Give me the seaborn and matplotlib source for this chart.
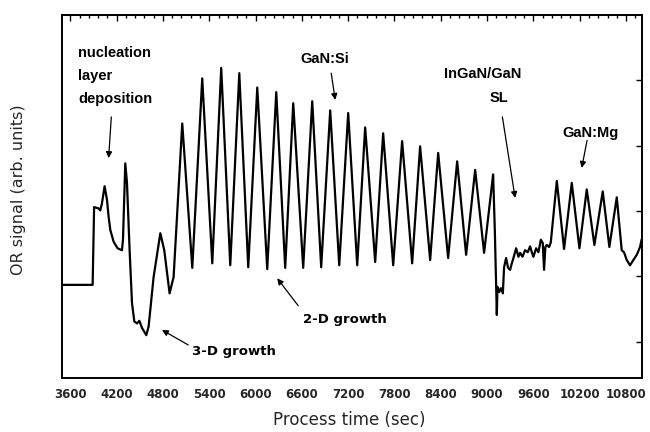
import matplotlib
matplotlib.use("Agg")
import numpy as np
import pandas as pd
import seaborn as sns
import matplotlib.pyplot as plt
from matplotlib.ticker import MultipleLocator, FixedLocator

# ---------------- data ----------------
# nucleation layer / 3-D growth phase
t_nucl = [3496, 3889, 3908, 3966, 3988, 4010, 4044, 4075, 4096, 4118, 4161,
          4212, 4269, 4282, 4312, 4334, 4368, 4399, 4429, 4464, 4494, 4529,
          4584, 4614, 4679, 4766, 4817, 4886, 4938]
s_nucl = [1.87, 1.87, 3.06, 3.04, 3.01, 3.12, 3.38, 3.17, 2.91, 2.71, 2.53,
          2.43, 2.40, 2.56, 3.73, 3.43, 2.40, 1.59, 1.31, 1.28, 1.32, 1.21,
          1.10, 1.23, 1.99, 2.66, 2.40, 1.74, 1.99]

# GaN:Si oscillations (peaks and troughs)
t_si_peak = [5050, 5309, 5555, 5789, 6022, 6268, 6488, 6734, 6967, 7200,
             7420, 7653, 7899, 8132, 8366, 8612, 8845, 9078]
s_si_peak = [4.34, 5.03, 5.19, 5.11, 4.89, 4.82, 4.65, 4.68, 4.54, 4.50,
             4.28, 4.19, 4.07, 3.99, 3.89, 3.76, 3.63, 3.56]
t_si_trough = [5180, 5439, 5672, 5905, 6151, 6384, 6617, 6850, 7084, 7317,
               7550, 7783, 8029, 8262, 8495, 8728, 8961]
s_si_trough = [2.13, 2.20, 2.17, 2.14, 2.11, 2.13, 2.13, 2.14, 2.17, 2.17,
               2.22, 2.17, 2.20, 2.25, 2.28, 2.33, 2.36]

# InGaN/GaN superlattice
t_sl = [9100, 9126, 9134, 9156, 9178, 9204, 9220, 9246, 9272, 9298, 9320,
        9341, 9376, 9406, 9428, 9458, 9492, 9527, 9557, 9579, 9600, 9635,
        9665, 9696, 9721, 9738, 9755, 9773, 9803, 9825]
s_sl = [2.70, 1.41, 1.84, 1.76, 1.82, 1.74, 2.14, 2.28, 2.13, 2.10, 2.20,
        2.28, 2.43, 2.30, 2.36, 2.30, 2.40, 2.37, 2.46, 2.37, 2.30, 2.43,
        2.37, 2.56, 2.51, 2.10, 2.45, 2.48, 2.45, 2.52]

# GaN:Mg
t_mg = [9903, 9997, 10097, 10196, 10291, 10390, 10498, 10584, 10680, 10744,
        10774, 10809, 10852, 10895, 10939, 10982, 11003]
s_mg = [3.46, 2.42, 3.43, 2.43, 3.33, 2.48, 3.30, 2.45, 3.21, 2.40,
        2.37, 2.25, 2.17, 2.25, 2.33, 2.45, 2.57]

x_ticks = [3600, 4200, 4800, 5400, 6000, 6600, 7200, 7800, 8400, 9000,
           9600, 10200, 10800]
x_tick_labels = [str(v) for v in x_ticks]

# ---------------- build table ----------------
si = pd.DataFrame({"t": t_si_peak + t_si_trough, "s": s_si_peak + s_si_trough})
df = pd.concat([pd.DataFrame({"t": t_nucl, "s": s_nucl}), si,
                pd.DataFrame({"t": t_sl, "s": s_sl}),
                pd.DataFrame({"t": t_mg, "s": s_mg})], ignore_index=True)
df = df.sort_values("t").reset_index(drop=True)

# ---------------- plot ----------------
sns.set_style("white")
plt.rcParams["font.family"] = ["DejaVu Sans"]

fig = plt.figure(figsize=(6.5, 4.32), dpi=100)
W, H = 650, 432
L, R, T, B = 62, 641.7, 15, 378.3
ax = fig.add_axes([L / W, 1 - B / H, (R - L) / W, (B - T) / H])

sns.lineplot(data=df, x="t", y="s", ax=ax, color="black", lw=1.6,
             sort=False, estimator=None)

ax.set_xlim(3492, 11003)
ax.set_ylim(0.44, 6.0)

for sp in ax.spines.values():
    sp.set_visible(True)
    sp.set_color("black")
    sp.set_linewidth(1.4)

ax.xaxis.set_major_locator(FixedLocator(x_ticks))
ax.set_xticklabels(x_tick_labels)
ax.xaxis.set_minor_locator(MultipleLocator(120))
ax.yaxis.set_major_locator(FixedLocator([1, 2, 3, 4, 5]))
ax.set_yticklabels([])
ax.tick_params(axis="both", which="both", direction="in", top=True, right=True,
               color="black", width=1.0)
ax.tick_params(axis="x", which="major", length=4.5, pad=7, labelsize=8.5)
ax.tick_params(axis="x", which="minor", length=2.2)
ax.tick_params(axis="y", which="major", length=4.5)
for lab in ax.get_xticklabels():
    lab.set_fontweight("bold")

ax.set_xlabel("Process time (sec)", fontsize=12)
ax.xaxis.set_label_coords((349 - L) / (R - L), (B - 411) / (B - T))
ax.set_ylabel("OR signal (arb. units)", fontsize=11.5)
ax.yaxis.label.set_va("center")
ax.yaxis.set_label_coords((19 - L) / (R - L), (B - 190) / (B - T))

# ---------------- annotations ----------------
afont = dict(family=["Liberation Sans", "DejaVu Sans"], weight="bold",
             fontsize=10.5, color="black")
gfont = dict(family=["DejaVu Sans"], weight="bold", fontsize=9.5, color="black")

ax.text(3704, 5.35, "nucleation", ha="left", va="baseline", **afont)
ax.text(3704, 5.00, "layer", ha="left", va="baseline", **afont)
ax.text(3704, 4.66, "deposition", ha="left", va="baseline", **afont)
ax.text(6902, 5.26, "GaN:Si", ha="center", va="baseline", **afont)
ax.text(8948, 5.03, "InGaN/GaN", ha="center", va="baseline", **afont)
ax.text(9156, 4.67, "SL", ha="center", va="baseline", **afont)
ax.text(10334, 4.13, "GaN:Mg", ha="center", va="baseline", **afont)
ax.text(7161, 1.29, "2-D growth", ha="center", va="baseline", **gfont)
ax.text(5717, 0.80, "3-D growth", ha="center", va="baseline", **gfont)

arrow = dict(arrowstyle="-|>", color="black", lw=0.9, mutation_scale=9,
             shrinkA=0, shrinkB=0)
for (tx, ty), (hx, hy) in [((4131, 4.44), (4096, 3.81)),
                           ((6980, 5.11), (7032, 4.70)),
                           ((9198, 4.44), (9363, 3.20)),
                           ((10295, 4.08), (10226, 3.66)),
                           ((6553, 1.55), (6281, 1.97)),
                           ((5128, 0.95), (4787, 1.18))]:
    ax.annotate("", xy=(hx, hy), xytext=(tx, ty), arrowprops=arrow)

fig.savefig("out.png", dpi=100, facecolor="white")
